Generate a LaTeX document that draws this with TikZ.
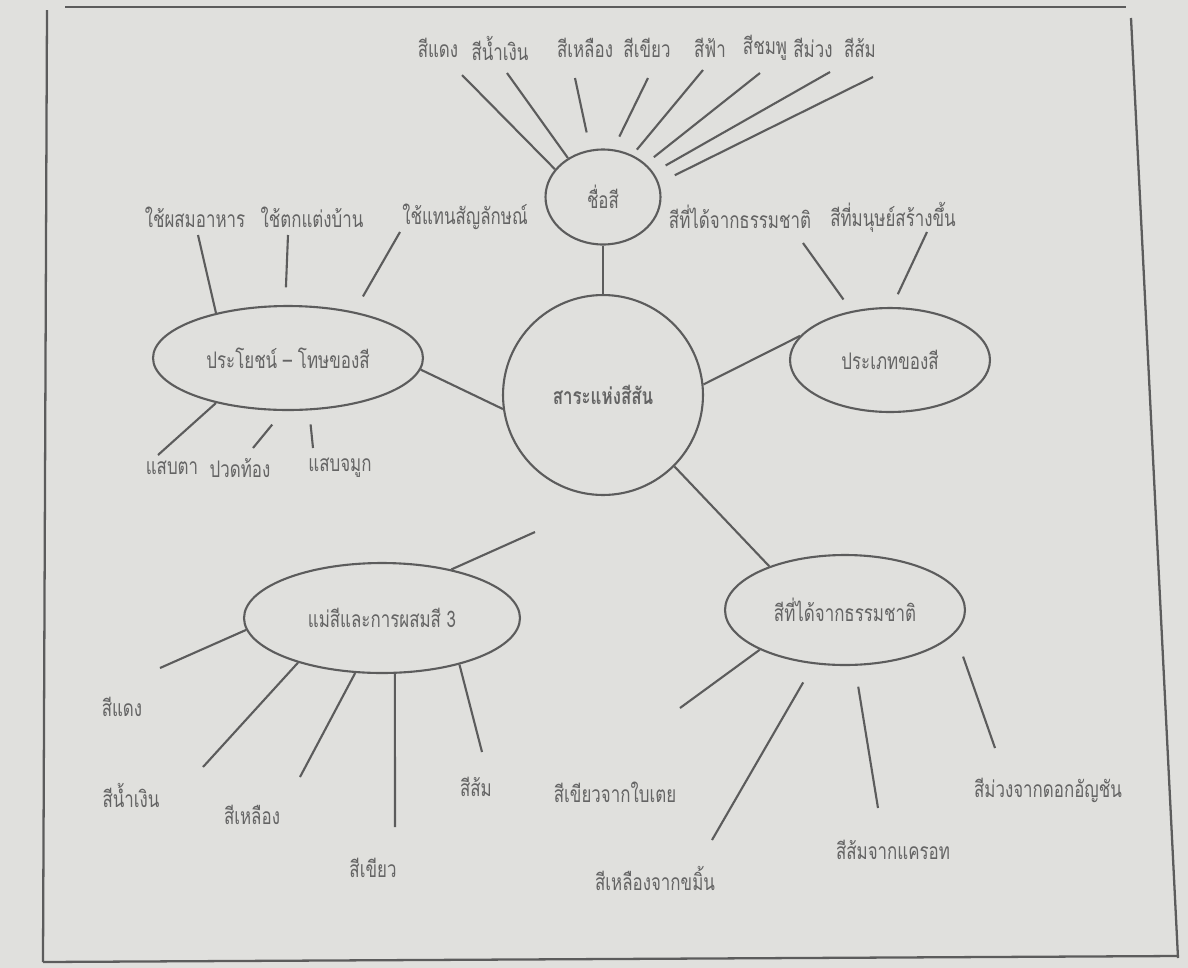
\documentclass[tikz,border=0pt]{standalone}
\usepackage{fontspec}
\newfontfamily\thaifont[Script=Thai,FakeStretch=0.74]{Loma}
\usetikzlibrary{shapes.geometric}
\usetikzlibrary{calc}
\definecolor{paper}{RGB}{224,224,221}
\definecolor{ink}{RGB}{100,100,100}
\definecolor{pen}{RGB}{92,92,92}

\tikzset{
  bubble/.style={ellipse, draw=pen, line width=1.2pt, inner sep=0pt, text=ink},
  leaf/.style={inner sep=1pt, text=ink},
  link/.style={draw=pen, line width=1.2pt},
}

\begin{document}
\begin{tikzpicture}[x=0.02cm, y=-0.02cm, font=\thaifont\fontsize{13}{15}\selectfont]
 \fill[paper] (0,0) rectangle (1188,968);
 \useasboundingbox (0,0) rectangle (1188,968);
 % border of the sheet
 \draw[pen, line width=1.3pt] (65,7) -- (1126,7);
 \draw[pen, line width=1.3pt] (47,10) -- (43,962);
 \draw[pen, line width=1.3pt] (1131,18) -- (1178,958);
 \draw[pen, line width=1.3pt] (43,962) -- (1178,956);

 % centre and branches
 \node[circle, draw=pen, line width=1.2pt, minimum size=4cm, inner sep=0pt, text=ink] (hub) at (603,395) {\bfseries สาระแห่งสีสัน};
 \node[bubble, minimum width=2.3cm, minimum height=1.9cm] (names) at (603,197) {ชื่อสี};
 \node[bubble, minimum width=5.4cm, minimum height=2.08cm] (uses) at (288,358) {ประโยชน์ – โทษของสี};
 \node[bubble, minimum width=4cm, minimum height=2.08cm] (kinds) at (890,360) {ประเภทของสี};
 \node[bubble, minimum width=5.52cm, minimum height=2.2cm] (mix) at (382,618) {แม่สีและการผสมสี 3};
 \node[bubble, minimum width=4.8cm, minimum height=2.2cm] (nature) at (845,610) {สีที่ได้จากธรรมชาติ};
 \coordinate (mixtip) at (535,532);

 \draw[link] (names.south) -- (hub.north);
 \draw[link] (uses.-5) -- (hub.188);
 \draw[link] (hub.6) -- (kinds.165);
 \draw[link] (mix.35) -- (mixtip);
 \draw[link] (hub.-45) -- (nature.150);

 % colour names
 \node[leaf] (cRed) at (438,48) {สีแดง};
 \node[leaf] (cBlue) at (500,48) {สีน้ำเงิน};
 \node[leaf] (cYellow) at (585,48) {สีเหลือง};
 \node[leaf] (cGreen) at (647,48) {สีเขียว};
 \node[leaf] (cSky) at (710,48) {สีฟ้า};
 \node[leaf] (cPink) at (765,48) {สีชมพู};
 \node[leaf] (cPurple) at (813,48) {สีม่วง};
 \node[leaf] (cOrange) at (860,48) {สีส้ม};
 \draw[link] ($(cRed)+(24,27)$) -- (names.150);
 \draw[link] ($(cBlue)+(7,25)$) -- (names.132);
 \draw[link, shorten >=10pt] ($(cYellow)+(-10,30)$) -- (names.105);
 \draw[link, shorten >=8pt] ($(cGreen)+(1,30)$) -- (names.78);
 \draw[link, shorten >=4pt] ($(cSky)+(-7,22)$) -- (names.55);
 \draw[link, shorten >=6pt] ($(cPink)+(-5,25)$) -- (names.38);
 \draw[link, shorten >=8pt] ($(cPurple)+(17,24)$) -- (names.26);
 \draw[link, shorten >=10pt] ($(cOrange)+(13,29)$) -- (names.14);

 % good and bad
 \node[leaf] (uA) at (195,217) {ใช้ผสมอาหาร};
 \node[leaf] (uB) at (312,217) {ใช้ตกแต่งบ้าน};
 \node[leaf] (uC) at (465,217) {ใช้แทนสัญลักษณ์};
 \node[leaf] (uD) at (172,468) {แสบตา};
 \node[leaf] (uE) at (240,468) {ปวดท้อง};
 \node[leaf] (uF) at (340,468) {แสบจมูก};
 \draw[link] ($(uA)+(3,18)$) -- (uses.148);
 \draw[link, shorten >=10pt] ($(uB)+(-24,18)$) -- (uses.93);
 \draw[link, shorten >=10pt] ($(uC)+(-65,15)$) -- (uses.35);
 \draw[link] ($(uD)+(-14,-13)$) -- (uses.-148);
 \draw[link, shorten >=10pt] ($(uE)+(13,-20)$) -- (uses.-95);
 \draw[link, shorten >=8pt] ($(uF)+(-27,-20)$) -- (uses.-68);

 % kinds
 \node[leaf] (kA) at (740,217) {สีที่ได้จากธรรมชาติ};
 \node[leaf] (kB) at (893,217) {สีที่มนุษย์สร้างขึ้น};
 \draw[link, shorten >=8pt] ($(kA)+(63,26)$) -- (kinds.128);
 \draw[link, shorten >=8pt] ($(kB)+(34,15)$) -- (kinds.88);

 % primary colours
 \node[leaf] (mA) at (122,707) {สีแดง};
 \node[leaf] (mB) at (131,795) {สีน้ำเงิน};
 \node[leaf] (mC) at (252,815) {สีเหลือง};
 \node[leaf] (mD) at (373,868) {สีเขียว};
 \node[leaf] (mE) at (476,787) {สีส้ม};
 \draw[link] ($(mA)+(38,-39)$) -- (mix.185);
 \draw[link] ($(mB)+(72,-28)$) -- (mix.-152);
 \draw[link] ($(mC)+(48,-38)$) -- (mix.-116);
 \draw[link] ($(mD)+(22,-41)$) -- (mix.-77);
 \draw[link] ($(mE)+(6,-35)$) -- (mix.-31);

 % colours from nature
 \node[leaf] (nA) at (615,792) {สีเขียวจากใบเตย};
 \node[leaf] (nB) at (655,878) {สีเหลืองจากขมิ้น};
 \node[leaf] (nC) at (893,850) {สีส้มจากแครอท};
 \node[leaf] (nD) at (1048,790) {สีม่วงจากดอกอัญชัน};
 \draw[link] ($(nA)+(65,-84)$) -- (nature.-155);
 \draw[link, shorten >=12pt] ($(nB)+(57,-38)$) -- (nature.-120);
 \draw[link, shorten >=12pt] ($(nC)+(-15,-42)$) -- (nature.-80);
 \draw[link, shorten >=14pt] ($(nD)+(-53,-42)$) -- (nature.-12);
\end{tikzpicture}
\end{document}
